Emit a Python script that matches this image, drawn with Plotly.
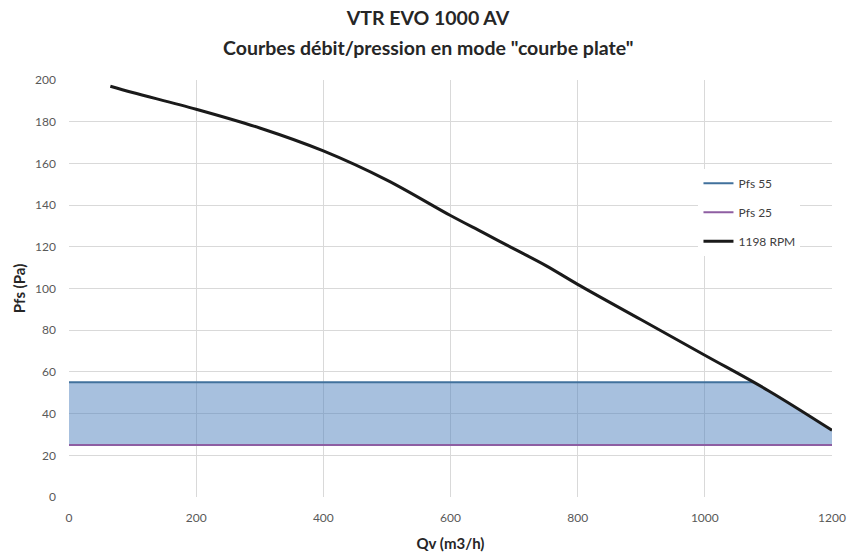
import numpy as np
import plotly.graph_objects as go

# 1198 RPM curve
qv = [65, 100, 200, 300, 400, 500, 600, 650, 700, 750, 800, 900, 1000, 1100, 1200]
pfs_rpm = [197, 194, 186, 177, 166, 152, 135, 127, 119, 111, 102, 85, 68, 51, 32]

# flat pressure limits
qv_limits = [0, 1200]
pfs_55 = [55, 55]
pfs_25 = [25, 25]

# filled zone: between Pfs 25 and min(Pfs 55, curve)
x_cross = float(np.interp(pfs_55[0], pfs_rpm[::-1], qv[::-1]))
upper_x = [qv_limits[0], x_cross] + [q for q in qv if q > x_cross]
upper_y = [pfs_55[0], pfs_55[0]] + [p for q, p in zip(qv, pfs_rpm) if q > x_cross]
fill_x = upper_x + qv_limits[::-1]
fill_y = upper_y + pfs_25[::-1]

fig = go.Figure()
fig.add_trace(go.Scatter(x=fill_x, y=fill_y, fill='toself', mode='none',
                         fillcolor='rgba(79,129,189,0.5)', showlegend=False, hoverinfo='skip'))
fig.add_trace(go.Scatter(x=[qv_limits[0], x_cross], y=pfs_55, mode='lines', name='Pfs 55',
                         legendgroup='a', line=dict(color='#41719c', width=2)))
fig.add_trace(go.Scatter(x=qv_limits, y=pfs_25, mode='lines', name='Pfs 25',
                         legendgroup='b', line=dict(color='#8e5ea2', width=2)))
fig.add_trace(go.Scatter(x=qv, y=pfs_rpm, mode='lines', name='1198 RPM',
                         legendgroup='c', line=dict(color='#1a1a1a', width=3, shape='spline')))

W, H = 856, 555
title_font = dict(size=19.5, color='#262626', family='Lato, sans-serif', weight='bold')
axis_title_font = dict(size=15, color='#262626', weight='bold')

fig.update_layout(
    width=W, height=H,
    paper_bgcolor='white', plot_bgcolor='white',
    font=dict(family='Lato, Open Sans, sans-serif', color='#595959', size=12),
    title=dict(text='VTR EVO 1000 AV', x=0.5, xanchor='center',
               y=1 - 18 / H, yanchor='middle', font=title_font),
    margin=dict(l=69, r=24, t=80, b=H - 497),
    legend=dict(x=0.825, y=0.787, xanchor='left', yanchor='top', bgcolor='rgba(255,255,255,1)',
                font=dict(size=12, color='#404040'), tracegroupgap=10),
    showlegend=True,
)
# second title line (Excel spaces the two lines a bit more than plotly does)
fig.add_annotation(text='Courbes débit/pression en mode "courbe plate"',
                   xref='paper', yref='paper', x=(428 - 69) / 763, y=(497 - 47) / 417,
                   xanchor='center', yanchor='middle', showarrow=False, font=title_font)

# automargin off so the plot area keeps the margins given above
fig.update_xaxes(range=[0, 1200], dtick=200, showgrid=True, gridcolor='#d9d9d9', gridwidth=1,
                 zeroline=False, showline=False, ticks='', ticklabelstandoff=12, automargin=False,
                 title=dict(text='Qv (m3/h)', font=axis_title_font, standoff=14))
fig.update_yaxes(range=[0, 200], dtick=20, showgrid=True, gridcolor='#d9d9d9', gridwidth=1,
                 zeroline=False, showline=False, ticks='', ticklabelstandoff=12, automargin=False,
                 title=dict(text='Pfs (Pa)', font=axis_title_font, standoff=5))

# drop the default body margin so the figure sits at the window's corner
fig.write_html("out.html", config={'displayModeBar': False},
               post_script="document.body.style.margin='0';")
